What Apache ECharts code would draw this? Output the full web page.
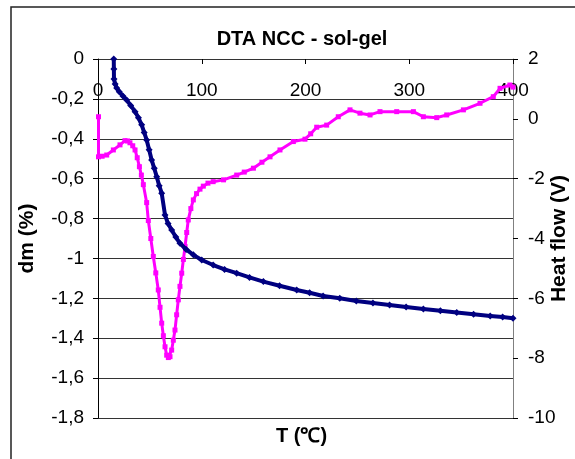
<!DOCTYPE html>
<html>
<head>
<meta charset="utf-8">
<script src="https://cdn.jsdelivr.net/npm/echarts@6/dist/echarts.min.js"></script>
<style>
  html, body { margin: 0; padding: 0; background: #fff; }
  #chart { width: 575px; height: 459px; }
</style>
</head>
<body>
<div id="chart"></div>
<script>
// mass loss curve (left axis, dm %)
const massT = [15.2, 15.3, 15.4, 16.5, 18, 20.5, 24, 27.6, 31.5, 35.7, 39, 42.1, 44.5, 46.9, 49.3, 51.7, 54.2, 56.6, 59, 61.4,
  64.6, 67.5, 71, 75, 79, 85, 91.9, 100, 111, 122, 133.7, 146, 159.4, 175, 191.5, 204, 217, 233, 249, 265,
  281, 297, 313.6, 330, 345.8, 362, 378, 390, 400];
const massDm = [0, -0.05, -0.1, -0.125, -0.145, -0.164, -0.185, -0.205, -0.233, -0.264, -0.295, -0.33, -0.368, -0.406, -0.455, -0.506, -0.548, -0.59, -0.635, -0.673,
  -0.782, -0.825, -0.857, -0.893, -0.924, -0.955, -0.982, -1.008, -1.033, -1.055, -1.074, -1.095, -1.116, -1.137, -1.158, -1.172, -1.188, -1.2, -1.213, -1.223,
  -1.233, -1.243, -1.253, -1.262, -1.271, -1.28, -1.288, -1.294, -1.3];

// DTA curve (right axis, heat flow V)
const heatT = [0.5, 0.5, 4, 8.4, 14.8, 21.2, 26, 28.5, 30.8, 33.5, 35.7, 37.8, 39.9, 41.8, 43.7, 46.9, 48.5, 50.9, 53.3, 55.7,
  58.1, 59.8, 61.4, 63, 64.6, 66.2, 67.8, 69.4, 71, 72.6, 74.2, 75.8, 77.4, 79, 80.7, 82.3, 83.9, 85.5, 87, 89.5,
  91.9, 95, 98.3, 101.5, 106, 111, 121, 133.7, 141, 149.8, 158, 165.8, 175.4, 188.3, 199.5, 205, 210.8, 220.4, 231.6, 242.9,
  252.5, 262.2, 271.8, 287.9, 304, 313.6, 326.5, 336.1, 352.2, 368.2, 381, 387.5, 397, 400];
const heatV = [0.07, -1.27, -1.25, -1.21, -1.04, -0.87, -0.73, -0.74, -0.8, -0.9, -1.04, -1.3, -1.6, -1.88, -2.2, -2.8, -3.4, -4.0, -4.6, -5.15,
  -5.72, -6.3, -6.83, -7.25, -7.62, -7.9, -7.98, -7.95, -7.73, -7.4, -7.06, -6.55, -6.05, -5.6, -5.16, -4.7, -4.27, -3.8, -3.38, -3.0,
  -2.71, -2.5, -2.35, -2.25, -2.15, -2.1, -2.04, -1.88, -1.78, -1.65, -1.45, -1.27, -1.04, -0.76, -0.68, -0.5, -0.28, -0.21, 0.07, 0.3,
  0.19, 0.13, 0.24, 0.24, 0.24, 0.07, 0.04, 0.13, 0.3, 0.52, 0.74, 1.02, 1.13, 1.06];

const xTicks = [0, 100, 200, 300, 400];

const font = 'Arial, "Liberation Sans", sans-serif';
const zip = (xs, ys) => xs.map((x, i) => [x, ys[i]]);

const chart = echarts.init(document.getElementById('chart'));

const option = {
  animation: false,
  backgroundColor: '#fff',
  title: {
    text: 'DTA NCC - sol-gel',
    left: 297,
    top: 24,
    textAlign: 'center',
    textStyle: { fontFamily: font, fontSize: 20, fontWeight: 'bold', color: '#000' }
  },
  grid: { left: 98, right: 62, top: 59, bottom: 41, outerBoundsMode: 'none' },
  xAxis: {
    type: 'value',
    position: 'top',
    min: xTicks[0],
    max: xTicks[xTicks.length - 1],
    interval: 100,
    axisLine: { show: true, onZero: false, lineStyle: { color: '#333', width: 1 } },
    axisTick: { show: true, inside: true, length: 5, lineStyle: { color: '#000' } },
    axisLabel: { inside: true, margin: 22, fontFamily: font, fontSize: 19, color: '#000' },
    splitLine: { show: false }
  },
  yAxis: [
    {
      type: 'value',
      name: 'dm (%)',
      nameLocation: 'middle',
      nameGap: 60,
      nameRotate: 90,
      nameTextStyle: { fontFamily: font, fontSize: 21, fontWeight: 'bold', color: '#000' },
      min: -1.8,
      max: 0,
      interval: 0.2,
      axisLine: { show: true, lineStyle: { color: '#000' } },
      axisTick: { show: true, length: 5, lineStyle: { color: '#000' } },
      axisLabel: {
        margin: 14,
        fontFamily: font, fontSize: 19, color: '#000',
        formatter: v => String(Math.round(v * 10) / 10).replace('.', ',')
      },
      splitLine: { show: true, lineStyle: { color: '#333', width: 1 } }
    },
    {
      type: 'value',
      name: 'Heat flow (V)',
      nameLocation: 'middle',
      nameGap: 36,
      nameMoveOverlap: false,
      nameRotate: 90,
      nameTextStyle: { fontFamily: font, fontSize: 21, fontWeight: 'bold', color: '#000' },
      min: -10,
      max: 2,
      interval: 2,
      position: 'right',
      axisLine: { show: true, lineStyle: { color: '#808080' } },
      axisTick: { show: true, length: 5, lineStyle: { color: '#000' } },
      axisLabel: { margin: 15, fontFamily: font, fontSize: 19, color: '#000' },
      splitLine: { show: false }
    }
  ],
  series: [
    {
      name: 'dm',
      type: 'line',
      yAxisIndex: 0,
      data: zip(massT, massDm),
      symbol: 'diamond',
      symbolSize: 7,
      itemStyle: { color: '#000080' },
      lineStyle: { color: '#000080', width: 4 },
      z: 3
    },
    {
      name: 'Heat flow',
      type: 'line',
      yAxisIndex: 1,
      data: zip(heatT, heatV),
      symbol: 'rect',
      symbolSize: 5,
      itemStyle: { color: '#ff00ff' },
      lineStyle: { color: '#ff00ff', width: 3 },
      z: 2
    }
  ],
  graphic: [
    {
      type: 'rect',
      shape: { x: 11, y: 7, width: 620, height: 520 },
      style: { fill: 'none', stroke: '#222', lineWidth: 1.5 },
      silent: true
    },
    {
      type: 'text',
      left: 276,
      top: 426,
      style: { text: 'T (℃)', font: 'bold 20px ' + font, fill: '#000' }
    }
  ]
};

chart.setOption(option);
</script>
</body>
</html>
